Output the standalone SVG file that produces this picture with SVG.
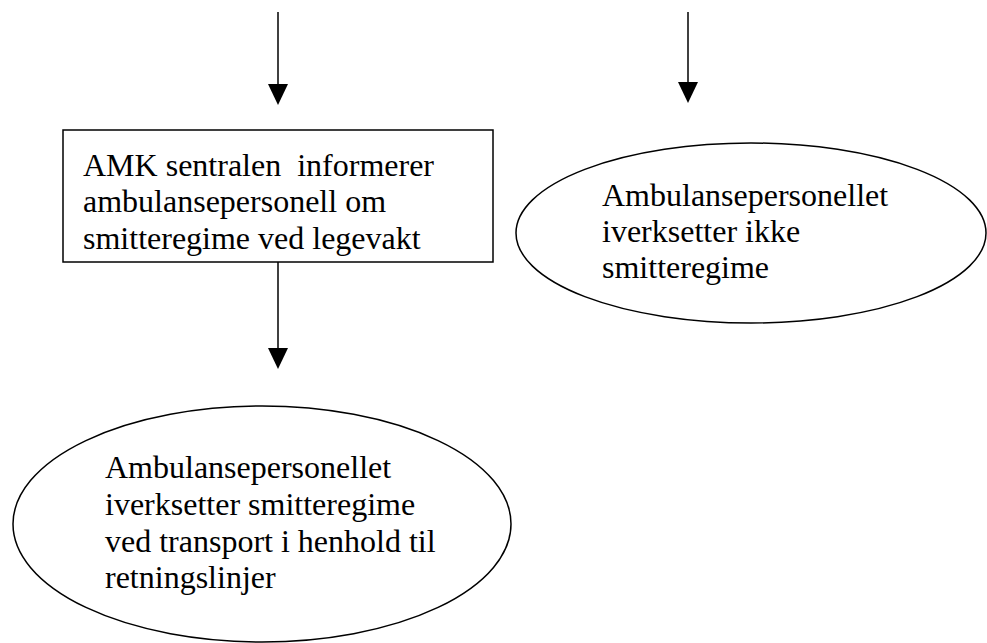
<svg xmlns="http://www.w3.org/2000/svg" width="987" height="643" viewBox="0 0 987 643">
<style>
.shape{fill:#fff;stroke:#000;stroke-width:1.5}
.conn{stroke:#000;stroke-width:1.5;fill:none}
.head{fill:#000;stroke:none}
.t{font-family:'Liberation Serif','Times New Roman',Times,serif;font-size:32px;fill:#000;white-space:pre}
</style>
<g id="connectors">
<line class="conn" x1="278" y1="12" x2="278" y2="86"/>
<path class="head" d="M268,84 L288,84 L278,105 Z"/>
<line class="conn" x1="688" y1="12" x2="688" y2="84"/>
<path class="head" d="M678,82 L698,82 L688,103 Z"/>
<line class="conn" x1="278" y1="262" x2="278" y2="350"/>
<path class="head" d="M268,348 L288,348 L278,369 Z"/>
</g>
<g id="node-amk" font-family="Liberation Serif, serif" font-size="32">
<rect class="shape" x="63" y="130" width="430" height="132"/>
<text class="t" x="83" y="176" xml:space="preserve">AMK sentralen  informerer</text>
<text class="t" x="83" y="212">ambulansepersonell om</text>
<text class="t" x="83" y="249">smitteregime ved legevakt</text>
</g>
<g id="node-ikke" font-family="Liberation Serif, serif" font-size="32">
<ellipse class="shape" cx="751" cy="233" rx="235" ry="90"/>
<text class="t" x="602" y="206">Ambulansepersonellet</text>
<text class="t" x="602" y="242">iverksetter ikke</text>
<text class="t" x="602" y="278">smitteregime</text>
</g>
<g id="node-iverksetter" font-family="Liberation Serif, serif" font-size="32">
<ellipse class="shape" cx="262" cy="524" rx="249" ry="118"/>
<text class="t" x="105" y="478">Ambulansepersonellet</text>
<text class="t" x="105" y="515">iverksetter smitteregime</text>
<text class="t" x="105" y="552">ved transport i henhold til</text>
<text class="t" x="105" y="588">retningslinjer</text>
</g>
</svg>
